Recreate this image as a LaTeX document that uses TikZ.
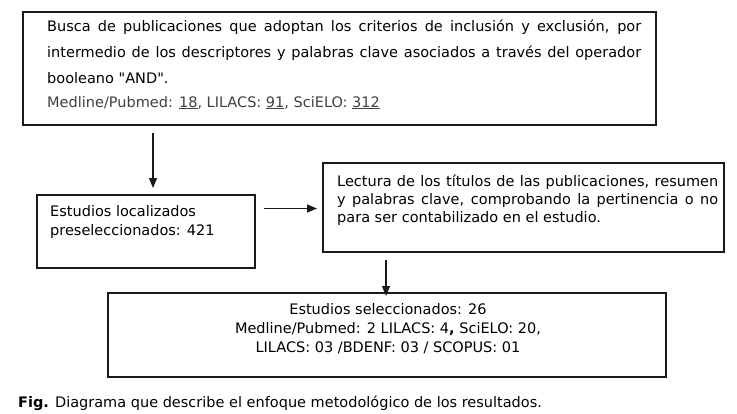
\documentclass[tikz,border=0pt]{standalone}
\usepackage{fontspec}
\setmainfont{DejaVu Sans}
\newfontfamily\qfont{DejaVu Sans}
\usetikzlibrary{arrows.meta}
\definecolor{boxline}{HTML}{1A1A1A}
\definecolor{greytext}{HTML}{404040}
\begin{document}
\begin{tikzpicture}[x=1pt,y=-1pt,
  box/.style={draw=boxline,line width=1.6pt,rectangle,inner sep=0pt,fill=none},
  txt/.style={inner sep=0pt,anchor=base west,font=\fontsize{14.5}{17}\selectfont},
  ctxt/.style={inner sep=0pt,anchor=base,font=\fontsize{14.5}{17}\selectfont},
  arr/.style={draw=boxline,line width=1.2pt,-{Triangle[width=8pt,length=10pt]}}]
\useasboundingbox (0,0) rectangle (737,413);
% boxes
\node[box,line width=2pt,minimum width=633pt,minimum height=113pt] (b1) at (339.5,68.5) {};
\node[box,minimum width=218pt,minimum height=73pt] (b2) at (146,231.5) {};
\node[box,minimum width=401pt,minimum height=89pt] (b3) at (523.5,207.5) {};
\node[box,minimum width=558pt,minimum height=84pt] (b4) at (387,335) {};
% box 1 text
\node[txt] (t11) at (47,31) {\makebox[594pt][s]{Busca de publicaciones que adoptan los criterios de inclusión y exclusión, por}};
\node[txt] (t12) at (47,57) {\makebox[594pt][s]{intermedio de los descriptores y palabras clave asociados a través del operador}};
\node[txt] (t13) at (47,83) {booleano {\qfont"}AND{\qfont"}.};
\node[txt,text=greytext] (t14) at (47,107) {Medline/Pubmed: \underline{18}, LILACS: \underline{91}, SciELO: \underline{312}};
% box 2 text
\node[txt] (t21) at (50,216) {Estudios localizados};
\node[txt] (t22) at (50,235) {preseleccionados: 421};
% box 3 text
\node[txt] (t31) at (337,186.5) {\makebox[381pt][s]{Lectura de los títulos de las publicaciones, resumen}};
\node[txt] (t32) at (337,204.5) {\makebox[381pt][s]{y palabras clave, comprobando la pertinencia o no}};
\node[txt] (t33) at (337,222.5) {para ser contabilizado en el estudio.};
% box 4 text
\node[ctxt] (t41) at (388,314) {Estudios seleccionados: 26};
\node[ctxt] (t42) at (388,333) {Medline/Pubmed: 2 LILACS: 4\textbf{,} SciELO: 20,};
\node[ctxt] (t43) at (388,352) {LILACS: 03 /BDENF: 03 / SCOPUS: 01};
% caption
\node[txt] (cap) at (18,407) {\textbf{Fig.} Diagrama que describe el enfoque metodológico de los resultados.};
% arrows
\coordinate (a1s) at (153,133);
\coordinate (a1e) at (153,188);
\coordinate (a2s) at (264,208.5);
\coordinate (a2e) at (317,208.5);
\coordinate (a3s) at (386,260);
\coordinate (a3e) at (386,296);
\draw[arr] (a1s) -- (a1e);
\draw[arr] (a2s) -- (a2e);
\draw[arr] (a3s) -- (a3e);
\end{tikzpicture}
\end{document}
